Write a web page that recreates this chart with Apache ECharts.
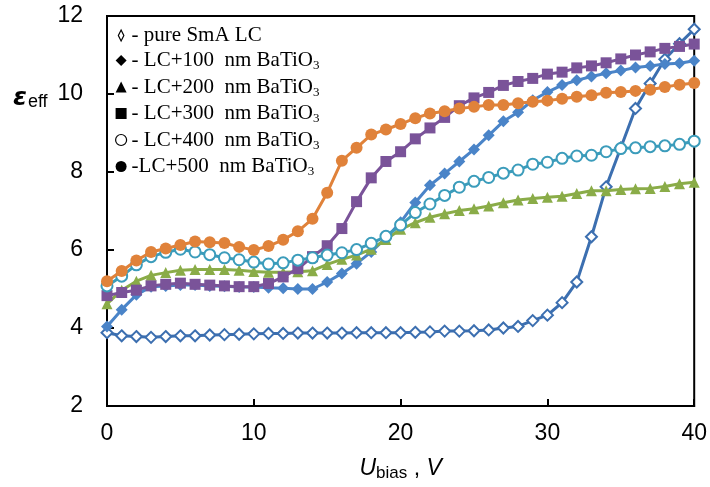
<!DOCTYPE html>
<html>
<head>
<meta charset="utf-8">
<script src="https://cdn.jsdelivr.net/npm/echarts@6/dist/echarts.min.js"></script>
<style>html,body{margin:0;padding:0;background:#fff}#c{width:710px;height:487px}</style>
</head>
<body>
<div id="c"></div>
<script>
var xValues = [0,1,2,3,4,5,6,7,8,9,10,11,12,13,14,15,16,17,18,19,20,21,22,23,24,25,26,27,28,29,30,31,32,33,34,35,36,37,38,39,40];
var seriesNames = ['pure SmA LC','LC+100 nm BaTiO3','LC+200 nm BaTiO3','LC+300 nm BaTiO3','LC+400 nm BaTiO3','LC+500 nm BaTiO3'];
var pureSmA = [3.88,3.8,3.78,3.76,3.78,3.8,3.8,3.82,3.83,3.84,3.85,3.86,3.86,3.87,3.87,3.87,3.87,3.88,3.88,3.88,3.88,3.89,3.9,3.92,3.92,3.93,3.95,4.0,4.04,4.19,4.33,4.65,5.18,6.34,7.62,8.62,9.63,10.27,10.89,11.29,11.66];
var lc100 = [4.04,4.47,4.85,5.06,5.08,5.1,5.1,5.08,5.07,5.05,5.05,5.03,5.02,5.0,5.0,5.18,5.4,5.65,5.95,6.31,6.71,7.22,7.66,7.96,8.27,8.58,8.94,9.3,9.53,9.84,10.05,10.23,10.35,10.45,10.53,10.6,10.68,10.72,10.77,10.79,10.85];
var lc200 = [4.62,4.97,5.2,5.35,5.42,5.48,5.5,5.5,5.5,5.48,5.45,5.43,5.43,5.44,5.47,5.63,5.76,5.87,6.02,6.27,6.53,6.7,6.84,6.93,7.01,7.06,7.13,7.21,7.28,7.32,7.35,7.38,7.45,7.52,7.52,7.55,7.57,7.58,7.63,7.7,7.74];
var lc300 = [4.83,4.91,4.97,5.08,5.12,5.15,5.12,5.1,5.08,5.06,5.06,5.14,5.31,5.52,5.83,6.11,6.55,7.24,7.85,8.27,8.52,8.85,9.13,9.4,9.7,9.9,10.04,10.22,10.32,10.4,10.51,10.56,10.67,10.72,10.8,10.9,11.0,11.08,11.17,11.22,11.28];
var lc400 = [5.08,5.33,5.62,5.83,5.94,6.02,5.95,5.88,5.8,5.75,5.69,5.64,5.67,5.74,5.8,5.87,5.93,6.01,6.17,6.35,6.64,6.96,7.18,7.4,7.61,7.76,7.86,7.97,8.05,8.2,8.25,8.35,8.41,8.43,8.52,8.6,8.62,8.65,8.67,8.71,8.79];
var lc500 = [5.2,5.46,5.73,5.95,6.04,6.13,6.22,6.2,6.18,6.08,6.0,6.1,6.26,6.48,6.8,7.47,8.29,8.62,8.96,9.09,9.23,9.38,9.5,9.56,9.63,9.67,9.72,9.72,9.76,9.8,9.83,9.88,9.93,9.97,10.03,10.05,10.08,10.11,10.18,10.24,10.28];
var xTicks = [0,10,20,30,40];
var yTicks = [2,4,6,8,10,12];

function pairs(ys){ return xValues.map(function(x,i){ return [x, ys[i]]; }); }

var styles = [
  {color:'#3c6fb0', symbol:'diamond', size:11, fill:'#ffffff'},
  {color:'#4a84c8', symbol:'diamond', size:12, fill:null},
  {color:'#8aac48', symbol:'triangle', size:11, fill:null},
  {color:'#7a5399', symbol:'rect', size:11, fill:null},
  {color:'#3b9cbb', symbol:'circle', size:11, fill:'#ffffff'},
  {color:'#e0823a', symbol:'circle', size:12, fill:null}
];
var legendIcons = [
  {icon:'path://M5,0 L10,10 L5,20 L0,10 Z', empty:true},
  {icon:'diamond', empty:false},
  {icon:'triangle', empty:false},
  {icon:'rect', empty:false},
  {icon:'circle', empty:true},
  {icon:'circle', empty:false}
];
var allData = [pureSmA, lc100, lc200, lc300, lc400, lc500];

var series = allData.map(function(d, k){
  var s = styles[k];
  return {
    name: seriesNames[k],
    type: 'line',
    data: pairs(d),
    symbol: s.symbol,
    symbolSize: s.size,
    showAllSymbol: true,
    lineStyle: {color: s.color, width: 3},
    itemStyle: s.fill ? {color: s.fill, borderColor: s.color, borderWidth: 2} : {color: s.color, borderColor: s.color, borderWidth: 0},
    emphasis: {disabled: true},
    animation: false,
    z: 2 + k
  };
});

var chart = echarts.init(document.getElementById('c'));
chart.setOption({
  backgroundColor: '#ffffff',
  animation: false,
  grid: {left: 107, right: 15, top: 16, bottom: 74, show: true, borderColor: '#000', borderWidth: 2, backgroundColor: 'transparent'},
  title: {
    text: '{e|\u03B5}{s|eff}',
    left: 8, top: 80,
    textStyle: {rich: {
      e: {fontFamily: 'DejaVu Sans', fontWeight: 'bold', fontStyle: 'italic', fontSize: 25, color: '#000'},
      s: {fontFamily: 'Liberation Sans', fontWeight: 'normal', fontSize: 18, color: '#000', verticalAlign: 'bottom', padding: [8,0,0,1]}
    }}
  },
  legend: {
    orient: 'vertical', left: 110, top: 20, itemGap: 4, itemWidth: 11, itemHeight: 11,
    selectedMode: false,
    data: seriesNames.map(function(n,k){
      var li = legendIcons[k];
      return {name: n, icon: li.icon,
        itemStyle: li.empty ? {color:'#ffffff', borderColor:'#000', borderWidth:1.2} : {color:'#000', borderWidth:0},
        lineStyle: {opacity: 0}};
    }),
    formatter: function(n){
      var pre = (n === seriesNames[5]) ? '-' : '- ';
      if (n.indexOf('BaTiO3') >= 0) return '{t|' + pre + n.replace(' nm BaTiO3','  nm BaTiO') + '}{sub|3}';
      return '{t|' + pre + n + '}';
    },
    textStyle: {
      rich: {
        t: {fontFamily: 'Liberation Serif', fontSize: 21, color: '#000'},
        sub: {fontFamily: 'Liberation Serif', fontSize: 13, color: '#000', verticalAlign: 'bottom', padding: [11,0,0,0]}
      }
    }
  },
  xAxis: {
    type: 'value', min: 0, max: 40, interval: 10,
    axisLine: {show: true, lineStyle: {color: '#000', width: 2}},
    axisTick: {show: true, inside: true, length: 7, lineStyle: {color:'#000', width: 2}},
    splitLine: {show: false},
    axisLabel: {fontFamily: 'Liberation Sans', fontSize: 23, color: '#000', margin: 16,
      formatter: function(v){ return xTicks.indexOf(v) >= 0 ? String(v) : ''; }},
    name: '{i|U}{s|bias}{n| , }{i|V}',
    nameLocation: 'middle', nameGap: 50,
    nameTextStyle: {rich: {
      i: {fontFamily: 'Liberation Sans', fontStyle: 'italic', fontSize: 23, color: '#000'},
      s: {fontFamily: 'Liberation Sans', fontSize: 17, color: '#000', verticalAlign: 'bottom', padding: [9,0,0,0]},
      n: {fontFamily: 'Liberation Sans', fontSize: 23, color: '#000'}
    }}
  },
  yAxis: {
    type: 'value', min: 2, max: 12, interval: 2,
    axisLine: {show: true, lineStyle: {color: '#000', width: 2}},
    axisTick: {show: true, inside: true, length: 7, lineStyle: {color:'#000', width: 2}},
    splitLine: {show: false},
    axisLabel: {fontFamily: 'Liberation Sans', fontSize: 23, color: '#000', margin: 24,
      formatter: function(v){ return yTicks.indexOf(v) >= 0 ? String(v) : ''; }}
  },
  series: series
});
</script>
</body>
</html>
